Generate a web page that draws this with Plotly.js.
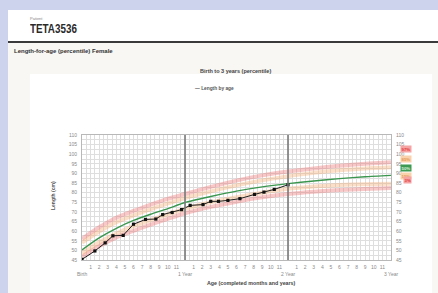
<!DOCTYPE html>
<html>
<head>
<meta charset="utf-8">
<script src="https://cdn.plot.ly/plotly-3.0.1.min.js"></script>
<style>
  html, body { margin:0; padding:0; width:438px; height:293px; overflow:hidden; background:#cdd3ec; font-family:"Liberation Sans", Arial, sans-serif; }
  .abs { position:absolute; }
</style>
</head>
<body>
<div class="abs" style="left:8px;top:10px;width:430px;height:283px;background:#ffffff;"></div>
<div class="abs" style="left:8px;top:43px;width:430px;height:250px;background:#f8f7f4;"></div>
<div class="abs" style="left:30px;top:74px;width:402px;height:219px;background:#ffffff;"></div>
<div class="abs" style="left:8px;top:41px;width:430px;height:2px;background:#3a3a3a;"></div>
<div class="abs" style="left:30px;top:16px;font-size:4px;color:#888;">Patient</div>
<div class="abs" style="left:30px;top:22px;font-size:12px;font-weight:bold;color:#2a2a2a;transform:scaleX(0.82);transform-origin:left top;">TETA3536</div>
<div class="abs" style="left:14px;top:48px;font-size:6px;font-weight:bold;color:#333;">Length-for-age (percentile) Female</div>
<div id="chart" class="abs" style="left:0;top:0;width:438px;height:293px;"></div>
<script>
// ---- data ----
const refMonths = [0, 2, 4, 6, 8, 10, 12, 15, 18, 21, 24, 27, 30, 33, 36];
const p97 = [56.0, 62.0, 67.0, 70.5, 73.8, 76.8, 79.3, 83.0, 86.3, 89.0, 91.0, 92.6, 94.0, 95.0, 95.8];
const p85 = [54.0, 59.8, 64.6, 68.2, 71.5, 74.4, 77.2, 80.7, 83.8, 86.4, 88.6, 90.3, 91.7, 92.6, 93.2];
const p50 = [50.3, 56.5, 61.5, 65.6, 68.8, 71.7, 74.9, 78.0, 80.8, 83.0, 84.7, 86.1, 87.3, 88.3, 89.0];
const p15 = [48.5, 54.2, 58.8, 62.6, 65.8, 68.8, 71.6, 75.0, 77.7, 80.0, 82.0, 83.2, 84.0, 84.4, 84.7];
const p3  = [46.8, 52.2, 56.8, 60.2, 63.4, 66.4, 69.3, 72.6, 75.3, 77.6, 79.3, 80.5, 81.4, 81.9, 82.4];

const visitAge = [0, 1.5, 2.7, 3.6, 4.8, 6.0, 7.4, 8.6, 9.4, 10.5, 11.6, 12.6, 14.1, 15.0, 15.9, 17.0, 18.4, 20.1, 21.2, 22.4, 24.0];
const visitLength = [45.3, 49.7, 53.9, 57.6, 57.8, 63.6, 66.1, 66.3, 68.6, 69.7, 71.2, 73.4, 73.8, 75.5, 75.5, 76.0, 76.9, 79.1, 80.3, 81.7, 84.1];

const monthTickLabels = ['1','2','3','4','5','6','7','8','9','10','11'];
const yearMonths = [0, 12, 24, 36];
const yearLabels = ['Birth', '1 Year', '2 Year', '3 Year'];
const percentileLabels = ['97%', '85%', '50%', '15%', '3%'];
const seriesName = 'Length by age';

// ---- build ----
const redLine = 'rgba(236,110,110,0.38)';
const orangeLine = 'rgba(246,170,110,0.38)';
const greenLine = 'rgb(58,150,78)';

function pct(y, color, width) {
  return { x: refMonths, y: y, type: 'scatter', mode: 'lines', line: { color: color, width: width, shape: 'spline', smoothing: 0.6 }, hoverinfo: 'skip', showlegend: false, xaxis: 'x', yaxis: 'y' };
}
const traces = [
  pct(p97, redLine, 4), pct(p3, redLine, 4),
  pct(p85, orangeLine, 4), pct(p15, orangeLine, 4),
  pct(p50, greenLine, 1.4),
  { x: visitAge, y: visitLength, name: seriesName, type: 'scatter', mode: 'lines+markers',
    line: { color: '#1e1e1e', width: 1 }, marker: { symbol: 'square', size: 3.2, color: '#111' },
    showlegend: false, xaxis: 'x2', yaxis: 'y2' }
];

// tick alias: 0..36 linear ticks -> month-in-year labels, blank at whole years
const alias = {};
for (let m = 0; m <= 36; m++) {
  alias[String(m)] = (m % 12 === 0) ? ' ' : monthTickLabels[(m % 12) - 1];
}

const PL = 82, PR = 391, PT = 135, PB = 260;
const W = 438, H = 293;
const px = v => (v - PL) / (PR - PL);
const py = v => (PB - v) / (PB - PT);
const tickFont = { family: 'Liberation Sans, Arial, sans-serif', size: 5, color: '#8a8a8a' };

const annotations = [];
yearMonths.forEach((m, i) => annotations.push({ x: m, xref: 'x', y: py(274), yref: 'paper', text: yearLabels[i], showarrow: false, font: tickFont, xanchor: 'center', yanchor: 'middle' }));
annotations.push({ x: px(235), xref: 'paper', y: py(66), yref: 'paper', text: '<b>Birth to 3 years (percentile)</b>', showarrow: false, font: { family: 'Liberation Sans, Arial, sans-serif', size: 5.5, color: '#444' } });
annotations.push({ x: px(214), xref: 'paper', y: py(84), yref: 'paper', text: '<b>— ' + seriesName + '</b>', showarrow: false, font: { family: 'Liberation Sans, Arial, sans-serif', size: 4.8, color: '#555' } });
annotations.push({ x: px(48), xref: 'paper', y: py(196), yref: 'paper', text: '<b>Length (cm)</b>', textangle: -90, showarrow: false, font: { family: 'Liberation Sans, Arial, sans-serif', size: 5, color: '#555' } });
annotations.push({ x: px(251), xref: 'paper', y: py(288), yref: 'paper', text: '<b>Age (completed months and years)</b>', showarrow: false, font: { family: 'Liberation Sans, Arial, sans-serif', size: 5.3, color: '#444' } });
const badgeY = [145, 155, 163.5, 172, 179.5];
const badgeBg = ['#f6a3a3', '#f9d2ac', '#3d9a52', '#f9d2ac', '#f6a3a3'];
const badgeFg = ['#e03c3c', '#e49a55', '#d9f0dc', '#e49a55', '#e03c3c'];
percentileLabels.forEach((t, i) => annotations.push({ x: px(411.5), xref: 'paper', y: py(badgeY[i]), yref: 'paper', text: '<b>' + t + '</b>', showarrow: false, bgcolor: badgeBg[i], borderpad: 0.5, font: { family: 'Liberation Sans, Arial, sans-serif', size: 4.3, color: badgeFg[i] } }));

const shapes = yearMonths.slice(1, 3).map(m => ({ type: 'line', xref: 'x', yref: 'paper', x0: m, x1: m, y0: 0, y1: 1, line: { color: '#7a7a7a', width: 1.6 } }));

const gridC = '#dedede';
const layout = {
  width: W, height: H,
  margin: { l: PL, r: W - PR, t: PT, b: H - PB, pad: 0 },
  paper_bgcolor: 'rgba(0,0,0,0)', plot_bgcolor: '#ffffff',
  showlegend: false,
  xaxis: { range: [0, 36], tickmode: 'linear', tick0: 0, dtick: 1, labelalias: alias,
    showgrid: true, gridcolor: gridC, gridwidth: 1,
    minor: { tick0: 0, dtick: 0.5, showgrid: true, gridcolor: gridC, gridwidth: 1 },
    ticks: 'outside', ticklen: 2, tickcolor: 'rgba(0,0,0,0)', tickfont: tickFont,
    showline: true, mirror: true, linecolor: '#b8b8b8', linewidth: 1, zeroline: false, fixedrange: true },
  yaxis: { range: [45, 110], tickmode: 'linear', tick0: 45, dtick: 5,
    showgrid: true, gridcolor: gridC, gridwidth: 1,
    minor: { tick0: 45, dtick: 2.5, showgrid: true, gridcolor: gridC, gridwidth: 1 },
    ticks: 'outside', ticklen: 3, tickcolor: 'rgba(0,0,0,0)', tickfont: tickFont,
    showline: true, mirror: true, linecolor: '#b8b8b8', linewidth: 1, zeroline: false, fixedrange: true },
  xaxis2: { range: [0, 36], overlaying: 'x', visible: false, fixedrange: true },
  yaxis2: { range: [45, 110], overlaying: 'y', side: 'right', tickmode: 'linear', tick0: 45, dtick: 5,
    showgrid: false, zeroline: false, showline: false, ticks: 'outside', ticklen: 3, tickcolor: 'rgba(0,0,0,0)',
    tickfont: tickFont, fixedrange: true },
  annotations: annotations,
  shapes: shapes
};

Plotly.newPlot('chart', traces, layout, { staticPlot: true, displayModeBar: false });
</script>
</body>
</html>
